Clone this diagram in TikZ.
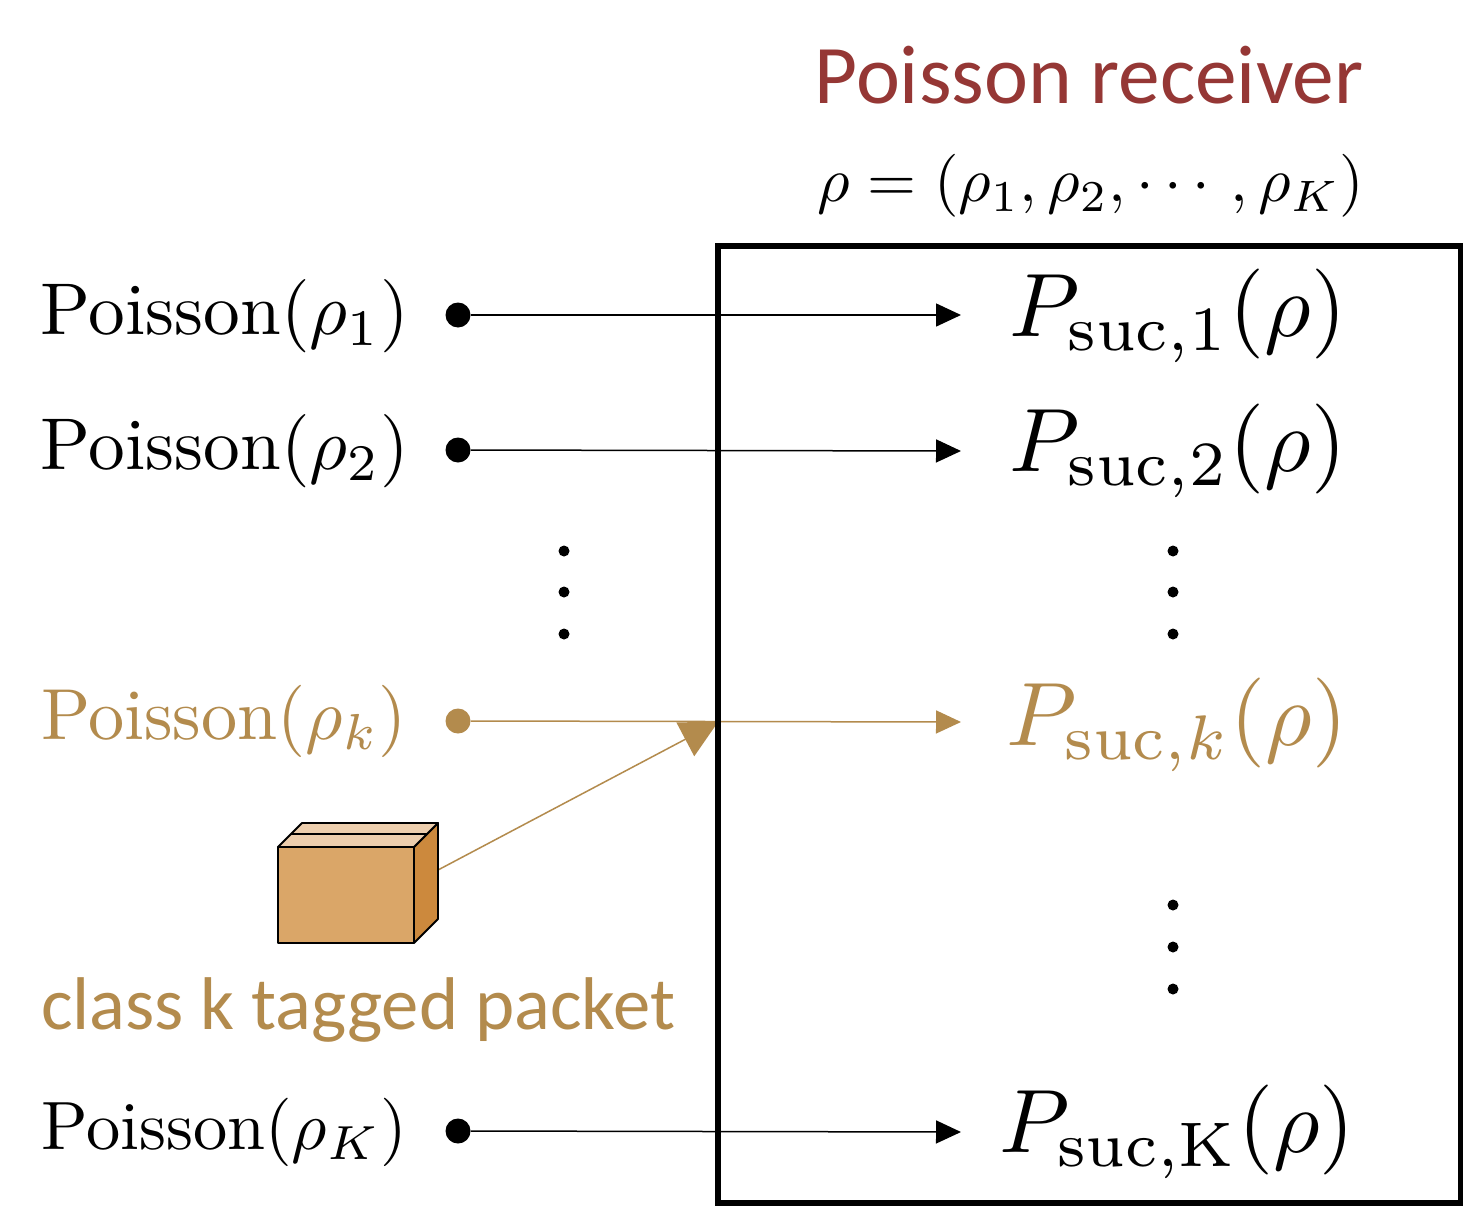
\documentclass[tikz,border=0pt]{standalone}
\usepackage{fontspec}
\setsansfont{Carlito}
\usetikzlibrary{arrows.meta}
\definecolor{tanc}{HTML}{B38B4D}
\definecolor{redb}{HTML}{953735}
\definecolor{cfront}{HTML}{DAA668}
\definecolor{cside}{HTML}{CC893D}
\definecolor{ctop}{HTML}{EDCEAD}
\newcommand{\pxu}{pt*0.75}
\tikzset{
 mathn/.style={anchor=center,inner sep=0pt},
 lab/.style={mathn,scale=5.5},
 psuc/.style={mathn,scale=6.75},
 dotn/.style={circle,fill=black,inner sep=0pt,minimum size=25\pxu},
 conn/.style={-{Triangle[length=25\pxu,width=23\pxu]},line width=1.5\pxu},
 vd/.style={circle,fill=black,inner sep=0pt,minimum size=11\pxu},
 pkg/.style={draw=black,line width=1.8\pxu,line join=round},
}
\begin{document}
\begin{tikzpicture}[x=0.75pt,y=-0.75pt]
\useasboundingbox (0,0) rectangle (1463,1206);
\fill[white] (0,0) rectangle (1463,1206);
\node[inner sep=0pt,text=redb,font=\sffamily\fontsize{62.5}{62.5}\selectfont] (title) at (1089,75) {Poisson receiver};
\node[mathn,scale=4.72] (rho) at (1091,186) {$\rho=(\rho_1,\rho_2,\cdots\,,\rho_K)$};
\node[lab] (p1) at (225,316) {Poisson$(\rho_1)$};
\node[lab] (p2) at (225,451) {Poisson$(\rho_2)$};
\node[mathn,scale=5.42,text=tanc] (pk) at (224,721) {Poisson$(\rho_k)$};
\node[mathn,scale=5.13] (pK) at (224,1132) {Poisson$(\rho_K)$};
\node[psuc] (s1) at (1178,316) {$P_{\mathrm{suc},1}(\rho)$};
\node[psuc] (s2) at (1178,451) {$P_{\mathrm{suc},2}(\rho)$};
\node[psuc,text=tanc] (sk) at (1177,725) {$P_{\mathrm{suc},k}(\rho)$};
\node[psuc] (sK) at (1177,1132) {$P_{\mathrm{suc},\mathrm{K}}(\rho)$};
\node[inner sep=0pt,text=tanc,font=\sffamily\fontsize{56}{56}\selectfont] (cls) at (358,1010) {class k tagged packet};
\node[dotn] (d1) at (458,315) {};
\node[dotn] (d2) at (458,450) {};
\node[dotn,fill=tanc] (dk) at (458,721) {};
\node[dotn] (dK) at (458,1131) {};
\coordinate (e1) at (961,315);
\coordinate (e2) at (961,451);
\coordinate (ek) at (961,722);
\coordinate (eK) at (961,1132);
\coordinate (pkgout) at (438,870);
\coordinate (boxhit) at (718,722);
\draw[conn] (d1) -- (e1);
\draw[conn] (d2) -- (e2);
\draw[conn,draw=tanc] (dk) -- (ek);
\draw[-{Triangle[length=37\pxu,width=38\pxu]},draw=tanc,line width=1.5\pxu] (pkgout) -- (boxhit);
\draw[conn] (dK) -- (eK);
\node[draw=black,line width=6\pxu,minimum width=743\pxu,minimum height=957\pxu,inner sep=0pt] (box) at (1089,724) {};
\foreach \n/\x/\y in {a/564/551,b/564/592,c/564/634,d/1173/551,e/1173/592,f/1173/634,g/1173/905,h/1173/947,i/1173/989}
  \node[vd] (v\n) at (\x,\y) {};
% package
\path[pkg,fill=cfront] (278,847) rectangle (414,943);
\path[pkg,fill=cside] (414,847) -- (438,823) -- (438,919) -- (414,943) -- cycle;
\path[pkg,fill=ctop] (278,847) -- (302,823) -- (438,823) -- (414,847) -- cycle;
\path[draw=black,line width=1.2\pxu] (291,834) -- (427,834);
\end{tikzpicture}
\end{document}
